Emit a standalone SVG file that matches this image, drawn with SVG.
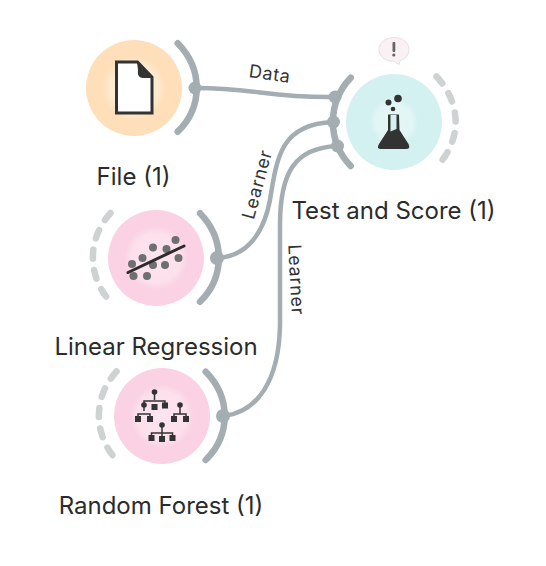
<svg xmlns="http://www.w3.org/2000/svg" width="546" height="566" viewBox="0 0 546 566">
<style>
.lbl{font-family:Inter,"Liberation Sans",sans-serif;font-size:24px;fill:#2b2b2b;text-anchor:middle}
.edge{font-family:Inter,"Liberation Sans",sans-serif;font-size:18px;letter-spacing:.7px;fill:#333;text-anchor:middle}
.link{fill:none;stroke:#a3adb2;stroke-width:4.5}
.arc{fill:none;stroke:#a3adb2;stroke-width:6.5;stroke-linecap:round}
.dash{fill:none;stroke:#cfd2d2;stroke-width:6.5;stroke-linecap:round;stroke-dasharray:9 11.5}
.port{fill:#a3adb2}
.ink{fill:#333}
.inks{stroke:#333;stroke-width:1.5;fill:none}
.dot{fill:#6f6f6f}
</style>
<defs>
<radialGradient id="h"><stop offset="0" stop-color="#fff" stop-opacity=".38"/><stop offset=".75" stop-color="#fff" stop-opacity=".34"/><stop offset="1" stop-color="#fff" stop-opacity="0"/></radialGradient>
</defs>
<rect width="546" height="566" fill="#fff"/>
<g id="connectors">
<path class="link" d="M196 88C255 88 270 98 335 97"/>
<path class="link" d="M218 258C248 256 264 232 270 200C277 155 282 124 333 122"/>
<path class="link" d="M224 416C258 412 279 380 280 325L280 225C280 172 295 148 337 146"/>
<text class="edge" transform="translate(269 80) rotate(8)">Data</text>
<text class="edge" transform="translate(263 186) rotate(-75)">Learner</text>
<text class="edge" transform="translate(290 280) rotate(87)">Learner</text>
</g>
<g id="file">
<circle cx="134" cy="88" r="48" fill="#fedfb9"/>
<circle cx="134" cy="88" r="32" fill="url(#h)"/>
<path d="M116.500 62H137.500L152 77V113H116.500Z" fill="#fff" stroke="#333" stroke-width="3"/>
<path d="M137 62L153 78H143Q137 78 138 70Z" fill="#333"/>
<path class="arc" d="M177.700 43.300C203 69 203 107 177.700 131.700"/>
<circle class="port" cx="195" cy="88" r="6.500"/>
<text class="lbl" x="133.500" y="185">File (1)</text>
</g>
<g id="test-and-score">
<circle cx="394" cy="122" r="48" fill="#d4f1f2"/>
<circle cx="394" cy="122" r="24" fill="url(#h)"/>
<circle cx="398" cy="98.500" r="3.800" class="ink"/><circle cx="388.500" cy="102.500" r="3" class="ink"/><circle cx="393" cy="109" r="2.300" class="ink"/>
<path d="M388 114.500H399L399.500 130L408.500 144Q411 149 406 149H381Q376 149 379 144L388 130Z" class="ink"/>
<path d="M390.500 115H396.500V129L390.500 131.500Z" fill="#d4f1f2"/>
<path class="arc" d="M350.700 77.700C327 103 327 141 350.700 166"/>
<path class="dash" d="M436.500 76.500C462 104 462 140 436.500 167"/>
<circle class="port" cx="335" cy="97" r="6.500"/><circle class="port" cx="333.500" cy="122" r="6.500"/><circle class="port" cx="337.500" cy="146" r="6.500"/>
<path d="M394 37.500C403 37.500 409 43 409 49.500C409 56 404 60 400 60.500L399 64.500L394.500 61.500C385 61.500 379 56 379 49.500C379 43 385 37.500 394 37.500Z" fill="#fbf0f4" stroke="#dfe3e6" stroke-width="1"/>
<rect x="392.500" y="42" width="2.800" height="10" rx="1" fill="#666"/><circle cx="393.800" cy="55" r="1.600" fill="#666"/>
<text class="lbl" x="393.500" y="219">Test and Score (1)</text>
</g>
<g id="linear-regression">
<circle cx="156" cy="258" r="48" fill="#fbd2e3"/>
<circle cx="156" cy="258" r="32" fill="url(#h)"/>
<g class="dot"><circle cx="175.500" cy="240" r="4"/><circle cx="153" cy="247.500" r="4"/><circle cx="166.500" cy="249" r="4"/><circle cx="142.500" cy="258" r="4"/><circle cx="178.500" cy="258" r="4"/><circle cx="132" cy="264" r="4"/><circle cx="153" cy="265" r="4"/><circle cx="165" cy="265" r="4"/><circle cx="133.500" cy="276" r="4"/><circle cx="147" cy="276" r="4"/></g>
<path d="M128 272.500L184 246" stroke="#2b2b2b" stroke-width="3" fill="none" stroke-linecap="round"/>
<path class="arc" d="M200 213.300C225 239 225 277 200 301.700"/>
<path class="dash" d="M110.500 213C87 239 87 276 110.500 302"/>
<circle class="port" cx="217" cy="258" r="7"/>
<text class="lbl" x="156" y="355">Linear Regression</text>
</g>
<g id="random-forest">
<circle cx="162" cy="416" r="48" fill="#fbd2e3"/>
<circle cx="162" cy="416" r="32" fill="url(#h)"/>
<g class="inks">
<path d="M154.500 392V400M144 406V401H165V405"/>
<path d="M144 405V411M138 419V414H150V419"/>
<path d="M180 405V414M174 419V414H186V419"/>
<path d="M162 425V433M151.500 437V433H172.500V437M162 433V438"/>
</g>
<g class="ink">
<circle cx="154.500" cy="392" r="2.800"/><circle cx="144" cy="405" r="2.800"/><circle cx="180" cy="405" r="2.800"/><circle cx="162" cy="425" r="2.800"/>
<rect x="151.500" y="404" width="6" height="6"/><rect x="162" y="402.500" width="6" height="6"/>
<rect x="135" y="416" width="6" height="6"/><rect x="147" y="416" width="6" height="6"/><rect x="171" y="416" width="6" height="6"/><rect x="183" y="416" width="6" height="6"/>
<rect x="148.500" y="435" width="6" height="6"/><rect x="159" y="436" width="6" height="6"/><rect x="169.500" y="435" width="6" height="6"/>
</g>
<path class="arc" d="M205.700 371.700C231 397 231 435 205.700 460"/>
<path class="dash" d="M116.500 371.500C93 397 93 434 116.500 460"/>
<circle class="port" cx="223" cy="416" r="7"/>
<text class="lbl" x="161" y="514">Random Forest (1)</text>
</g>
</svg>
